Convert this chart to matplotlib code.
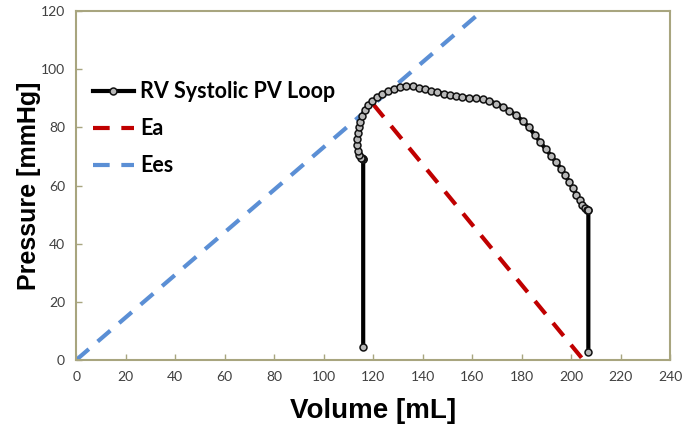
import matplotlib
matplotlib.use("Agg")
import matplotlib.pyplot as plt

# RV systolic PV loop (volume mL, pressure mmHg)
loop_vol = [116, 116, 115.8, 115.5, 115, 114.2, 113.8, 113.6, 113.6, 113.8, 114.2,
            114.8, 115.6, 116.6, 118, 119.6, 121.5, 123.6, 126, 128.5, 131, 133.5,
            136, 138.5, 141, 143.5, 146, 148.5, 151, 153.5, 156, 158.7, 161.5,
            164.3, 167, 169.7, 172.4, 175, 177.7, 180.5, 183, 185.3, 187.5, 189.7,
            192, 194, 196, 197.7, 199.3, 200.8, 202.2, 203.5, 204.6, 205.6, 206.4,
            206.8, 207, 207]
loop_prs = [4.6, 69, 69.1, 69.3, 69.5, 70.5, 72, 74, 76, 78, 80,
            82, 84, 86, 87.6, 89, 90.3, 91.4, 92.4, 93.3, 93.9, 94.2,
            94.1, 93.7, 93.1, 92.6, 92.1, 91.6, 91.2, 90.8, 90.5, 90.2, 90,
            89.6, 89, 88.2, 87.1, 85.8, 84.2, 82.2, 80, 77.5, 75, 72.6,
            70.2, 68, 65.8, 63.5, 61.2, 59, 56.9, 55, 53.4, 52.3, 51.7,
            51.6, 51.5, 2.8]

ea_vol = [120, 205]
ea_prs = [88, 0]
ees_vol = [0, 164]
ees_prs = [0, 120]

frame_col = "#a8a57f"
txt_col = "#404040"

fig = plt.figure(figsize=(6.99, 4.26), dpi=100)
ax = fig.add_axes([0.109, 0.155, 0.8495, 0.819])

ax.plot(loop_vol, loop_prs, color="black", lw=3, marker="o", ms=5,
        mfc="#b8b8b8", mec="#111111", mew=1.1, label="RV Systolic PV Loop", zorder=3)
ax.plot(ea_vol, ea_prs, color="#c00000", lw=3, ls=(0, (4, 2.8)), label="Ea", zorder=2)
ax.plot(ees_vol, ees_prs, color="#5b8fd5", lw=3, ls=(0, (4, 2.8)), label="Ees", zorder=2)

ax.set_xlim(0, 240)
ax.set_ylim(0, 120)
ax.set_xticks(range(0, 241, 20))
ax.set_yticks(range(0, 121, 20))
for s in ax.spines.values():
    s.set_color(frame_col)
    s.set_linewidth(1.5)
ax.tick_params(direction="in", length=4, width=1, color=frame_col,
               labelsize=10, labelcolor=txt_col, pad=8)
for lab in ax.get_xticklabels() + ax.get_yticklabels():
    lab.set_family("Lato")

ax.set_xlabel("Volume [mL]", fontsize=20, fontweight="bold",
              family="Liberation Sans", labelpad=11)
ax.set_ylabel("Pressure [mmHg]", fontsize=18, fontweight="bold",
              family="Liberation Sans", labelpad=0)

leg = ax.legend(loc="upper left", bbox_to_anchor=(0.01, 0.83), frameon=False,
                borderpad=0, handlelength=1.9, handletextpad=0.28,
                labelspacing=0.75, prop={"family": "Lato", "weight": "bold", "size": 15.5})

fig.savefig("out.png", dpi=100)
